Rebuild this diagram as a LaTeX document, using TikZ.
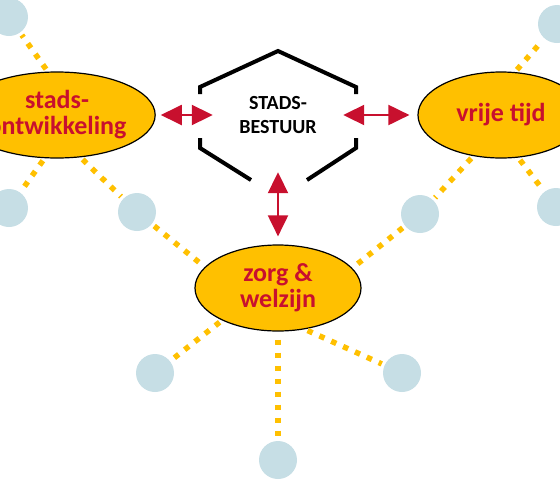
\documentclass[tikz,border=0pt]{standalone}
\usepackage{fontspec}
\setmainfont{Carlito}
\usepackage{tikz}
\usetikzlibrary{shapes.geometric, arrows.meta, positioning}

\definecolor{sectorgold}{RGB}{255,192,0}
\definecolor{sectorred}{RGB}{200,16,46}
\definecolor{bubbleblue}{RGB}{198,222,229}

\tikzset{
  sector/.style={draw=black, line width=1.2pt, ellipse, fill=sectorgold, minimum width=166pt, minimum height=86pt, inner sep=0pt, align=center, text=sectorred, font=\fontsize{26}{26}\selectfont\bfseries},
  bubble/.style={circle, fill=bubbleblue, minimum size=38pt, inner sep=0pt},
  link/.style={sectorgold, line width=5.5pt, dash pattern=on 5.5pt off 7.5pt, shorten <=3pt, shorten >=3pt},
  rel/.style={sectorred, line width=2pt, >={Triangle[length=21pt,width=20pt]}, <->},
  hexline/.style={black, line width=4pt}
}

\begin{document}
\begin{tikzpicture}[x=1pt, y=-1pt]
\useasboundingbox (0,0) rectangle (560,480);
\clip (0,0) rectangle (560,480);

% Sectors
\node[sector] (stads) at (57,115) {stads-\\ontwikkeling};
\node[sector] (vrije) at (501,115) {vrije tijd};
\node[sector] (zorg) at (278,288) {zorg \&\\welzijn};

% City government
\node[minimum width=130pt, minimum height=114pt, inner sep=0pt, align=center, font=\fontsize{20}{24}\selectfont\bfseries] (bestuur) at (278,115) {STADS-\\BESTUUR};
\draw[hexline] (200,94) -- (200,87) -- (278,51) -- (356,87) -- (356,94);
\draw[hexline] (200,138) -- (200,148) -- (251,180);
\draw[hexline] (356,138) -- (356,148) -- (307,180);

% Bubbles
\node[bubble] (b1) at (9,17) {};
\node[bubble] (b2) at (9,208) {};
\node[bubble] (b3) at (137,212) {};
\node[bubble] (b4) at (420,214) {};
\node[bubble] (b5) at (557,24) {};
\node[bubble] (b6) at (556,207) {};
\node[bubble] (b7) at (155,373) {};
\node[bubble] (b8) at (278,460) {};
\node[bubble] (b9) at (402,373) {};

% Dotted links
\draw[link] (stads.102) -- (b1);
\draw[link] (stads.-106) -- (b2);
\draw[link] (stads.-61) -- (b3);
\draw[link] (b3) -- (zorg.164);
\draw[link] (vrije.72) -- (b5);
\draw[link] (vrije.-68) -- (b6);
\draw[link] (vrije.-124) -- (b4);
\draw[link] (b4) -- (zorg.15);
\draw[link] (zorg.-150) -- (b7);
\draw[link, shorten <=8pt] (zorg.-90) -- (b8);
\draw[link] (zorg.-57) -- (b9);

% Relations
\draw[rel, shorten <=5pt] (stads) -- (bestuur);
\draw[rel, shorten >=8pt] (bestuur) -- (vrije);
\draw[rel, shorten >=8pt] (bestuur) -- (zorg);

\end{tikzpicture}
\end{document}
